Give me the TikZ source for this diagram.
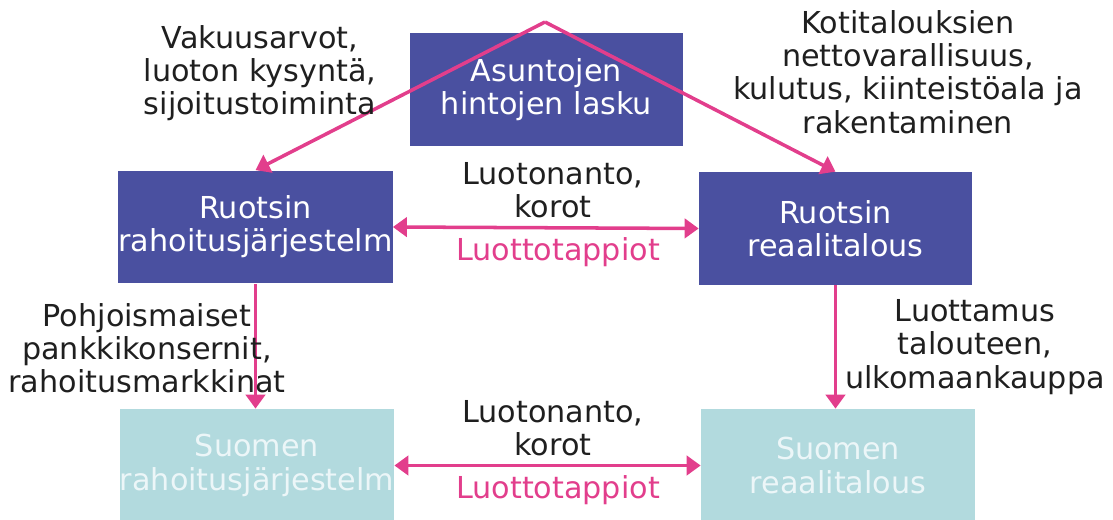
\documentclass[tikz,border=0pt]{standalone}
\usepackage{fontspec}
\setmainfont{DejaVu Sans}
\usetikzlibrary{arrows.meta}

\definecolor{boxblue}{RGB}{74,80,160}
\definecolor{boxteal}{RGB}{178,218,222}
\definecolor{linkpink}{RGB}{226,62,140}
\definecolor{paletext}{RGB}{236,246,248}

\tikzset{
  every node/.style={font=\fontsize{17.2}{18.9}\selectfont},
  bluebox/.style={fill=boxblue,text=white,minimum width=5.46cm,minimum height=2.26cm,align=center,inner sep=0pt},
  tealbox/.style={fill=boxteal,text=paletext,minimum width=5.48cm,minimum height=2.26cm,align=center,inner sep=0pt},
  lbl/.style={align=center,inner sep=0pt,text=black!88},
  link/.style={draw=linkpink,line width=2pt,-{Triangle[length=8pt,width=11pt]}},
  dlink/.style={link,{Triangle[length=8pt,width=11pt]}-{Triangle[length=8pt,width=11pt]}}
}

\begin{document}
\begin{tikzpicture}[x=0.02cm,y=-0.02cm]

\useasboundingbox (0,0) rectangle (1113,520);

\begin{scope}
\clip (0,0) rectangle (1113,520);

\node[bluebox] (lasku) at (546.5,89.5) {Asuntojen\\hintojen lasku};
\node[bluebox] (ruotsirah) at (255.5,227) {Ruotsin\\rahoitusjärjestelm};
\node[bluebox] (ruotsireaali) at (835.5,228.5) {Ruotsin\\reaalitalous};

\node[tealbox] (suomirah) at (257,465.5) {Suomen\\rahoitusjärjestelm};
\node[tealbox] (suomireaali) at (838,465.5) {Suomen\\reaalitalous};

\coordinate (huippu) at (545,22);

% talo-nuolet
\draw[link] (huippu) -- (ruotsirah.north);
\draw[link] (huippu) -- (ruotsireaali.north);

\draw[dlink] (ruotsirah.east) -- (ruotsireaali.west);
\draw[dlink] (suomirah.east) -- (suomireaali.west);

\draw[link] (ruotsirah.south) -- (ruotsirah.south |- suomirah.north);
\draw[link] (ruotsireaali.south) -- (ruotsireaali.south |- suomireaali.north);

\node[lbl] (vakuus) at (260,73) {Vakuusarvot,\\luoton kysyntä,\\sijoitustoiminta};
\node[lbl] (kotitalous) at (908,72) {Kotitalouksien\\nettovarallisuus,\\kulutus, kiinteistöala ja\\rakentaminen};

\node[lbl] (luotto1) at (553,190) {Luotonanto,\\korot};
\node[lbl,text=linkpink] (tappio1) at (558,252) {Luottotappiot};

\node[lbl] (pohjoismaat) at (147,348) {Pohjoismaiset\\pankkikonsernit,\\rahoitusmarkkinat};
\node[lbl] (luottamus) at (975,347) {Luottamus\\talouteen,\\ulkomaankauppa};

\node[lbl] (luotto2) at (553,428) {Luotonanto,\\korot};
\node[lbl,text=linkpink] (tappio2) at (558,490) {Luottotappiot};

\end{scope}

\end{tikzpicture}
\end{document}
